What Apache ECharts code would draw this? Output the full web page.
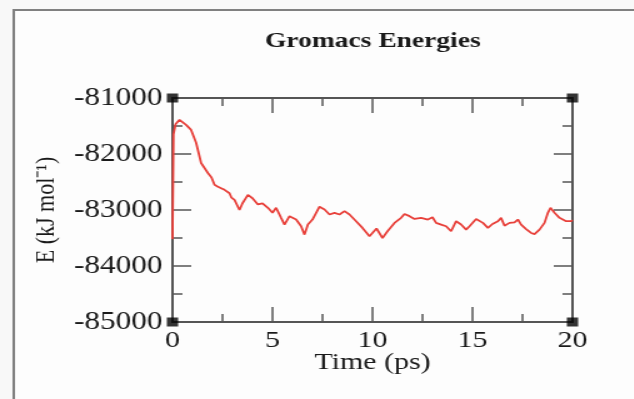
<!DOCTYPE html>
<html>
<head>
<meta charset="utf-8">
<script src="https://cdn.jsdelivr.net/npm/echarts@6/dist/echarts.min.js"></script>
<style>
  html, body { margin: 0; padding: 0; background: #f8f8f8; overflow: hidden; }
  /* the reference picture is stretched sideways, so draw narrower and stretch */
  #chart { width: 507px; height: 399px; transform: scaleX(1.25); transform-origin: 0 0; }
</style>
</head>
<body>
<div id="chart"></div>
<script>
// time (ps)
const time = [
  0, 0.05, 0.15, 0.35, 0.68, 0.93, 1.18, 1.43, 1.77, 1.95,
  2.1, 2.25, 2.43, 2.6, 2.85, 2.95, 3.1, 3.35, 3.5, 3.77,
  4.0, 4.27, 4.5, 4.77, 5.0, 5.18, 5.43, 5.6, 5.85, 6.18,
  6.43, 6.6, 6.77, 7.0, 7.35, 7.6, 7.85, 8.1, 8.35, 8.6,
  8.85, 9.18, 9.5, 9.85, 10.2, 10.5, 10.75, 11.1, 11.43, 11.6,
  11.85, 12.1, 12.43, 12.77, 13.0, 13.18, 13.43, 13.68, 13.93, 14.18,
  14.43, 14.68, 14.85, 15.18, 15.52, 15.77, 16.0, 16.27, 16.43, 16.6,
  16.85, 17.1, 17.27, 17.43, 17.68, 17.93, 18.1, 18.35, 18.6, 18.77,
  18.9, 19.1, 19.35, 19.68, 19.93, 20.0
];
// energy (kJ/mol)
const energy = [
  -83520, -81650, -81470, -81390, -81480, -81570, -81800, -82160, -82340, -82420,
  -82550, -82580, -82610, -82640, -82700, -82780, -82820, -83000, -82880, -82730,
  -82790, -82900, -82880, -82960, -83050, -82960, -83140, -83260, -83110, -83170,
  -83290, -83440, -83260, -83170, -82940, -82990, -83080, -83050, -83080, -83020,
  -83080, -83200, -83320, -83470, -83330, -83500, -83380, -83230, -83140, -83070,
  -83110, -83160, -83140, -83170, -83130, -83230, -83260, -83290, -83380, -83200,
  -83260, -83350, -83290, -83160, -83230, -83320, -83250, -83200, -83140, -83280,
  -83230, -83220, -83170, -83260, -83340, -83410, -83430, -83350, -83230, -83050,
  -82960, -83050, -83140, -83200, -83200, -83180
];
const xRange = [0, 20];
const yRange = [-85000, -81000];

const serif = 'Liberation Serif';
const axisColor = '#555';
const textColor = '#1a1a1a';

const chart = echarts.init(document.getElementById('chart'));

const corners = [];
xRange.forEach(x => yRange.forEach(y => corners.push([x, y])));

function xAx(pos, labels) {
  return {
    type: 'value', position: pos, min: xRange[0], max: xRange[1], interval: 5,
    axisLine: { onZero: false, lineStyle: { color: axisColor, width: 2 } },
    axisTick: { inside: true, length: 15, lineStyle: { color: axisColor, width: 1.5 } },
    minorTick: { show: true, splitNumber: 2, length: 8, lineStyle: { color: axisColor, width: 1.5 } },
    splitLine: { show: false },
    axisLabel: { show: labels, fontFamily: serif, fontSize: 24, color: textColor, margin: 7 }
  };
}
function yAx(pos, labels) {
  return {
    type: 'value', position: pos, min: yRange[0], max: yRange[1], interval: 1000,
    axisLine: { onZero: false, lineStyle: { color: axisColor, width: 2 } },
    axisTick: { inside: true, length: 15, lineStyle: { color: axisColor, width: 1.5 } },
    minorTick: { show: true, splitNumber: 2, length: 8, lineStyle: { color: axisColor, width: 1.5 } },
    splitLine: { show: false },
    axisLabel: {
      show: labels, fontFamily: serif, fontSize: 25, color: textColor, margin: 8,
      formatter: v => String(v)
    }
  };
}

const bottomX = Object.assign(xAx('bottom', true), {
  name: 'Time (ps)', nameLocation: 'middle', nameGap: 29, nameMoveOverlap: false,
  nameTextStyle: { fontFamily: serif, fontSize: 24, color: textColor }
});
const leftY = Object.assign(yAx('left', true), {
  name: 'E (kJ mol⁻¹)', nameLocation: 'middle', nameGap: 90, nameRotate: 90, nameMoveOverlap: false,
  nameTextStyle: { fontFamily: serif, fontSize: 22, color: textColor }
});

chart.setOption({
  animation: false,
  backgroundColor: '#f8f8f8',
  title: {
    text: 'Gromacs Energies',
    left: 212, top: 30, padding: 0,
    textStyle: { fontFamily: serif, fontSize: 22, fontWeight: 'bold', color: textColor }
  },
  graphic: [{
    type: 'rect', z: -10, silent: true,
    shape: { x: 11, y: 10, width: 600, height: 500 },
    style: { fill: '#fdfdfd', stroke: '#808080', lineWidth: 2 }
  }],
  grid: { left: 138, right: 49, top: 98, bottom: 77 },
  xAxis: [bottomX, xAx('top', false)],
  yAxis: [leftY, yAx('right', false)],
  series: [
    {
      type: 'line',
      data: time.map((t, i) => [t, energy[i]]),
      showSymbol: false,
      lineStyle: { color: '#e8403a', width: 1.8 },
      z: 3
    },
    {
      type: 'scatter',
      data: corners,
      symbol: 'rect',
      symbolSize: 9,
      itemStyle: { color: '#000' },
      clip: false,
      z: 4
    }
  ]
});
</script>
</body>
</html>
